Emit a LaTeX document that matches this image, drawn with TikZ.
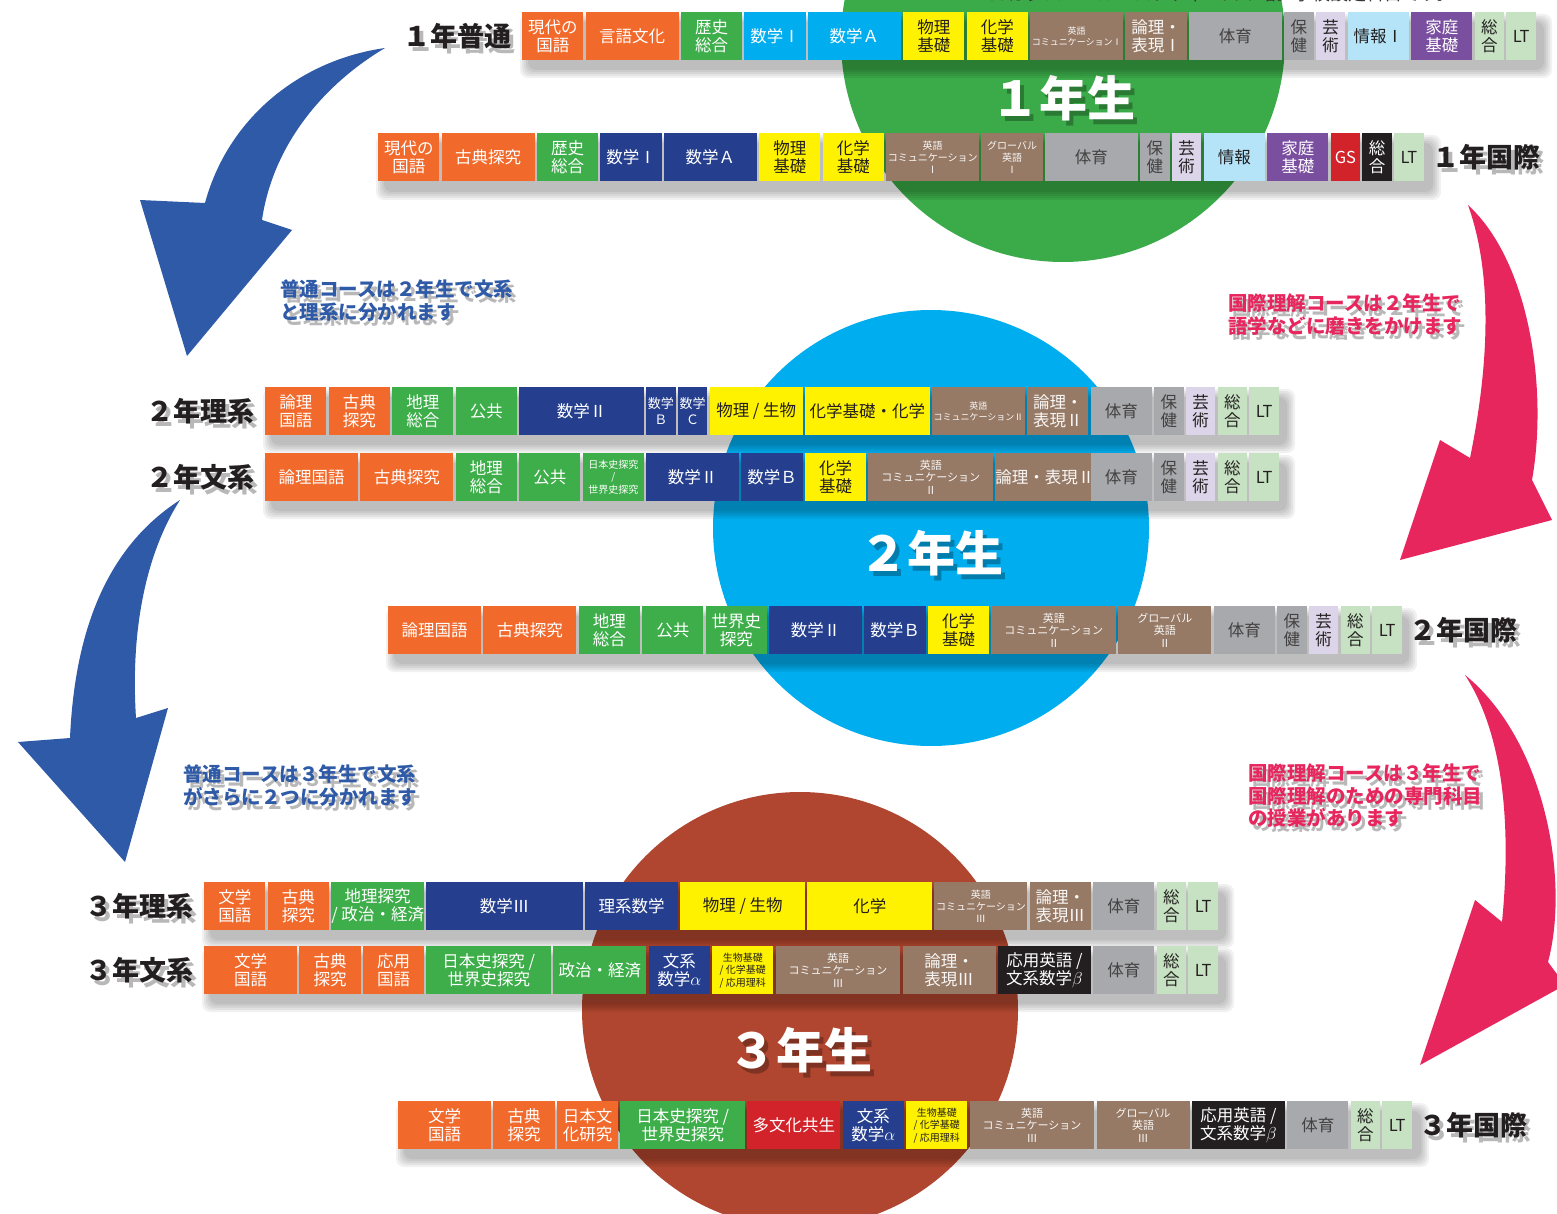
\documentclass[tikz,border=0pt]{standalone}
\usepackage{fontspec}
\setmainfont{Noto Sans CJK JP}
\usetikzlibrary{calc}
\definecolor{cOr}{HTML}{F26A2B}
\definecolor{cGr}{HTML}{3DAE4A}
\definecolor{cCy}{HTML}{00AEEF}
\definecolor{cNv}{HTML}{253F8E}
\definecolor{cYe}{HTML}{FFF200}
\definecolor{cBr}{HTML}{967A66}
\definecolor{cGy}{HTML}{A7A9AC}
\definecolor{cLv}{HTML}{DCD4E8}
\definecolor{cLb}{HTML}{B5E4F8}
\definecolor{cPu}{HTML}{7A4FA0}
\definecolor{cLg}{HTML}{C6E2C2}
\definecolor{cRd}{HTML}{D2232A}
\definecolor{cBk}{HTML}{231F20}
\definecolor{cDk}{HTML}{231F20}
\definecolor{cCircA}{HTML}{3BAA48}
\definecolor{cCircB}{HTML}{00AEEF}
\definecolor{cCircC}{HTML}{B0462F}
\definecolor{cArB}{HTML}{2E5AA7}
\definecolor{cArP}{HTML}{E8265E}
\newcommand\uu{31.75}
\newcommand\rowstart[2]{\xdef\cx{#1}\xdef\cy{#2}}
\newcommand\subjbox[4]{%
  \node[subj,#3,minimum width={#2*\uu-2.3}] (#1) at (\cx,\cy) {#4};
  \pgfmathsetmacro\tmpx{\cx+#2*\uu}\xdef\cx{\tmpx}}
\newcommand\rowshadow[4]{%
  \foreach \s in {0,2,4,6,8}
    \fill[black,opacity=0.055,rounded corners=8] ({#1+6-\s},{#2+10-\s}) rectangle ({#3+6+\s},{#4+10+\s});}
\newcommand\shtext[5]{% name, position, anchor, style, text
  \node[#4,anchor=#3,text=black,opacity=0.28] (#1s) at ($#2+(4,5)$) {#5};
  \node[#4,anchor=#3] (#1) at #2 {#5};}
\begin{document}
\begin{tikzpicture}[x=1pt,y=-1pt,
  subj/.style={inner sep=0pt, minimum height=48pt, anchor=north west, align=center,
    font=\fontsize{16.5}{17.5}\selectfont},
  sm/.style={font=\fontsize{11}{12.5}\selectfont},
  ms/.style={font=\fontsize{10}{12}\selectfont},
  xs/.style={font=\fontsize{9}{11}\selectfont},
  or/.style={fill=cOr,text=white},
  gr/.style={fill=cGr,text=white},
  cy/.style={fill=cCy,text=white},
  nv/.style={fill=cNv,text=white},
  ye/.style={fill=cYe,text=cDk},
  br/.style={fill=cBr,text=white!94!cBr},
  gy/.style={fill=cGy,text=cDk!85},
  lv/.style={fill=cLv,text=cDk},
  lb/.style={fill=cLb,text=cDk},
  pu/.style={fill=cPu,text=white},
  lg/.style={fill=cLg,text=cDk},
  rd/.style={fill=cRd,text=white},
  bk/.style={fill=cBk,text=white},
  rowlabel/.style={inner sep=0pt,font=\fontsize{27}{27}\bfseries\selectfont,text=cDk},
  bigtext/.style={inner sep=0pt,font=\fontsize{48}{48}\bfseries\selectfont,text=white},
  note/.style={inner sep=0pt,align=left,font=\fontsize{19.5}{22.5}\bfseries\selectfont},
]
\useasboundingbox (0,0) rectangle (1557,1214);
\clip (0,0) rectangle (1557,1214);
\fill[white] (0,0) rectangle (1557,1214);

% ---- big circles ----
\fill[cCircA] (1063,40) circle[radius=222pt];
\fill[cCircB] (931,528) circle[radius=218pt];
\fill[cCircC] (800,1010) circle[radius=218pt];

\node[inner sep=0pt,anchor=west,font=\fontsize{18}{18}\selectfont,text=cDk!90] (gsnote) at (985,-6) {GSはグローバル・スタディーズの略。学校設定科目です。};

\shtext{yr1}{(1063,98)}{center}{bigtext}{１年生}
\shtext{yr2}{(931,553)}{center}{bigtext}{２年生}
\shtext{yr3}{(800,1050)}{center}{bigtext}{３年生}

% ---- arrows ----
\fill[cArB] (385,48) .. controls (300,60) and (228,118) .. (205,203) -- (140,200) -- (187,356) -- (292,230) -- (262,220) .. controls (272,150) and (318,88) .. (385,48) -- cycle;
\fill[cArB] (180,500) .. controls (110,545) and (75,625) .. (70,738) -- (18,742) -- (125,862) -- (168,708) -- (136,718) .. controls (130,625) and (148,550) .. (180,500) -- cycle;
\fill[cArP] (1468,205) .. controls (1530,262) and (1548,390) .. (1532,480) -- (1552,520) -- (1400,560) -- (1440,440) -- (1470,458) .. controls (1490,360) and (1492,272) .. (1468,205) -- cycle;
\fill[cArP] (1465,675) .. controls (1545,740) and (1570,880) .. (1548,962) -- (1565,985) -- (1420,1065) -- (1475,900) -- (1502,922) .. controls (1512,820) and (1502,732) .. (1465,675) -- cycle;

% ---- notes ----
\shtext{n1}{(280,280)}{north west}{note,text=cArB}{普通コースは２年生で文系\\と理系に分かれます}
\shtext{n2}{(1228,294)}{north west}{note,text=cArP}{国際理解コースは２年生で\\語学などに磨きをかけます}
\shtext{n3}{(183,765)}{north west}{note,text=cArB}{普通コースは３年生で文系\\がさらに２つに分かれます}
\shtext{n4}{(1248,764)}{north west}{note,text=cArP}{国際理解コースは３年生で\\国際理解のための専門科目\\の授業があります}

% ---- row shadows ----
\rowshadow{522}{12}{1538}{60}
\rowshadow{378}{133}{1427}{182}
\rowshadow{265}{387}{1281}{435}
\rowshadow{265}{453}{1281}{501}
\rowshadow{388}{606}{1403}{654}
\rowshadow{204}{882}{1220}{930}
\rowshadow{204}{946}{1220}{994}
\rowshadow{398}{1101}{1415}{1149}

% ---- row 1: 1年普通 ----
\rowstart{522}{12}
\subjbox{a1}{2}{or}{現代の\\国語}
\subjbox{a2}{3}{or}{言語文化}
\subjbox{a3}{2}{gr}{歴史\\総合}
\subjbox{a4}{2}{cy}{数学Ⅰ}
\subjbox{a5}{3}{cy}{数学Ａ}
\subjbox{a6}{2}{ye}{物理\\基礎}
\subjbox{a7}{2}{ye}{化学\\基礎}
\subjbox{a8}{3}{br,xs}{英語\\コミュニケーションⅠ}
\subjbox{a9}{2}{br}{論理・\\表現Ⅰ}
\subjbox{a10}{3}{gy}{体育}
\subjbox{a11}{1}{gy}{保\\健}
\subjbox{a12}{1}{lv}{芸\\術}
\subjbox{a13}{2}{lb}{情報Ⅰ}
\subjbox{a14}{2}{pu}{家庭\\基礎}
\subjbox{a15}{1}{lg}{総\\合}
\subjbox{a16}{1}{lg}{LT}
\shtext{la}{([xshift=-10pt]a1.west)}{east}{rowlabel}{１年普通}

% ---- row 2: 1年国際 ----
\rowstart{378}{133}
\subjbox{b1}{2}{or}{現代の\\国語}
\subjbox{b2}{3}{or}{古典探究}
\subjbox{b3}{2}{gr}{歴史\\総合}
\subjbox{b4}{2}{nv}{数学Ⅰ}
\subjbox{b5}{3}{nv}{数学Ａ}
\subjbox{b6}{2}{ye}{物理\\基礎}
\subjbox{b7}{2}{ye}{化学\\基礎}
\subjbox{b8}{3}{br,ms}{英語\\コミュニケーション\\Ⅰ}
\subjbox{b9}{2}{br,ms}{グローバル\\英語\\Ⅰ}
\subjbox{b10}{3}{gy}{体育}
\subjbox{b11}{1}{gy}{保\\健}
\subjbox{b12}{1}{lv}{芸\\術}
\subjbox{b13}{2}{lb}{情報}
\subjbox{b14}{2}{pu}{家庭\\基礎}
\subjbox{b15}{1}{rd}{GS}
\subjbox{b16}{1}{bk}{総\\合}
\subjbox{b17}{1}{lg}{LT}
\shtext{lb}{([xshift=8pt]b17.east)}{west}{rowlabel}{１年国際}

% ---- row 3: 2年理系 ----
\rowstart{265}{387}
\subjbox{c1}{2}{or}{論理\\国語}
\subjbox{c2}{2}{or}{古典\\探究}
\subjbox{c3}{2}{gr}{地理\\総合}
\subjbox{c4}{2}{gr}{公共}
\subjbox{c5}{4}{nv}{数学Ⅱ}
\subjbox{c6}{1}{nv,font=\fontsize{13}{15.5}\selectfont}{数学\\Ｂ}
\subjbox{c7}{1}{nv,font=\fontsize{13}{15.5}\selectfont}{数学\\Ｃ}
\subjbox{c8}{3}{ye}{物理 / 生物}
\subjbox{c9}{4}{ye}{化学基礎・化学}
\subjbox{c10}{3}{br,xs}{英語\\コミュニケーションⅡ}
\subjbox{c11}{2}{br}{論理・\\表現Ⅱ}
\subjbox{c12}{2}{gy}{体育}
\subjbox{c13}{1}{gy}{保\\健}
\subjbox{c14}{1}{lv}{芸\\術}
\subjbox{c15}{1}{lg}{総\\合}
\subjbox{c16}{1}{lg}{LT}
\shtext{lc}{([xshift=-10pt]c1.west)}{east}{rowlabel}{２年理系}

% ---- row 4: 2年文系 ----
\rowstart{265}{453}
\subjbox{d1}{3}{or}{論理国語}
\subjbox{d2}{3}{or}{古典探究}
\subjbox{d3}{2}{gr}{地理\\総合}
\subjbox{d4}{2}{gr}{公共}
\subjbox{d5}{2}{gr,font=\fontsize{10}{12.5}\selectfont}{日本史探究\\/\\世界史探究}
\subjbox{d6}{3}{nv}{数学Ⅱ}
\subjbox{d7}{2}{nv}{数学Ｂ}
\subjbox{d8}{2}{ye}{化学\\基礎}
\subjbox{d9}{4}{br,sm}{英語\\コミュニケーション\\Ⅱ}
\subjbox{d10}{3}{br}{論理・表現Ⅱ}
\subjbox{d11}{2}{gy}{体育}
\subjbox{d12}{1}{gy}{保\\健}
\subjbox{d13}{1}{lv}{芸\\術}
\subjbox{d14}{1}{lg}{総\\合}
\subjbox{d15}{1}{lg}{LT}
\shtext{ld}{([xshift=-10pt]d1.west)}{east}{rowlabel}{２年文系}

% ---- row 5: 2年国際 ----
\rowstart{388}{606}
\subjbox{e1}{3}{or}{論理国語}
\subjbox{e2}{3}{or}{古典探究}
\subjbox{e3}{2}{gr}{地理\\総合}
\subjbox{e4}{2}{gr}{公共}
\subjbox{e5}{2}{gr}{世界史\\探究}
\subjbox{e6}{3}{nv}{数学Ⅱ}
\subjbox{e7}{2}{nv}{数学Ｂ}
\subjbox{e8}{2}{ye}{化学\\基礎}
\subjbox{e9}{4}{br,sm}{英語\\コミュニケーション\\Ⅱ}
\subjbox{e10}{3}{br,sm}{グローバル\\英語\\Ⅱ}
\subjbox{e11}{2}{gy}{体育}
\subjbox{e12}{1}{gy}{保\\健}
\subjbox{e13}{1}{lv}{芸\\術}
\subjbox{e14}{1}{lg}{総\\合}
\subjbox{e15}{1}{lg}{LT}
\shtext{le}{([xshift=7pt]e15.east)}{west}{rowlabel}{２年国際}

% ---- row 6: 3年理系 ----
\rowstart{204}{882}
\subjbox{f1}{2}{or}{文学\\国語}
\subjbox{f2}{2}{or}{古典\\探究}
\subjbox{f3}{3}{gr}{地理探究\\/ 政治・経済}
\subjbox{f4}{5}{nv}{数学Ⅲ}
\subjbox{f5}{3}{nv}{理系数学}
\subjbox{f6}{4}{ye}{物理 / 生物}
\subjbox{f7}{4}{ye}{化学}
\subjbox{f8}{3}{br,ms}{英語\\コミュニケーション\\Ⅲ}
\subjbox{f9}{2}{br}{論理・\\表現Ⅲ}
\subjbox{f10}{2}{gy}{体育}
\subjbox{f11}{1}{lg}{総\\合}
\subjbox{f12}{1}{lg}{LT}
\shtext{lf}{([xshift=-10pt]f1.west)}{east}{rowlabel}{３年理系}

% ---- row 7: 3年文系 ----
\rowstart{204}{946}
\subjbox{g1}{3}{or}{文学\\国語}
\subjbox{g2}{2}{or}{古典\\探究}
\subjbox{g3}{2}{or}{応用\\国語}
\subjbox{g4}{4}{gr}{日本史探究 /\\世界史探究}
\subjbox{g5}{3}{gr}{政治・経済}
\subjbox{g6}{2}{nv}{文系\\数学$\alpha$}
\subjbox{g7}{2}{ye,font=\fontsize{10}{12.5}\selectfont}{生物基礎\\/ 化学基礎\\/ 応用理科}
\subjbox{g8}{4}{br,sm}{英語\\コミュニケーション\\Ⅲ}
\subjbox{g9}{3}{br}{論理・\\表現Ⅲ}
\subjbox{g10}{3}{bk}{応用英語 /\\文系数学$\beta$}
\subjbox{g11}{2}{gy}{体育}
\subjbox{g12}{1}{lg}{総\\合}
\subjbox{g13}{1}{lg}{LT}
\shtext{lg}{([xshift=-10pt]g1.west)}{east}{rowlabel}{３年文系}

% ---- row 8: 3年国際 ----
\rowstart{398}{1101}
\subjbox{h1}{3}{or}{文学\\国語}
\subjbox{h2}{2}{or}{古典\\探究}
\subjbox{h3}{2}{or}{日本文\\化研究}
\subjbox{h4}{4}{gr}{日本史探究 /\\世界史探究}
\subjbox{h5}{3}{rd}{多文化共生}
\subjbox{h6}{2}{nv}{文系\\数学$\alpha$}
\subjbox{h7}{2}{ye,font=\fontsize{10}{12.5}\selectfont}{生物基礎\\/ 化学基礎\\/ 応用理科}
\subjbox{h8}{4}{br,sm}{英語\\コミュニケーション\\Ⅲ}
\subjbox{h9}{3}{br,sm}{グローバル\\英語\\Ⅲ}
\subjbox{h10}{3}{bk}{応用英語 /\\文系数学$\beta$}
\subjbox{h11}{2}{gy}{体育}
\subjbox{h12}{1}{lg}{総\\合}
\subjbox{h13}{1}{lg}{LT}
\shtext{lh}{([xshift=7pt]h13.east)}{west}{rowlabel}{３年国際}
\end{tikzpicture}
\end{document}
